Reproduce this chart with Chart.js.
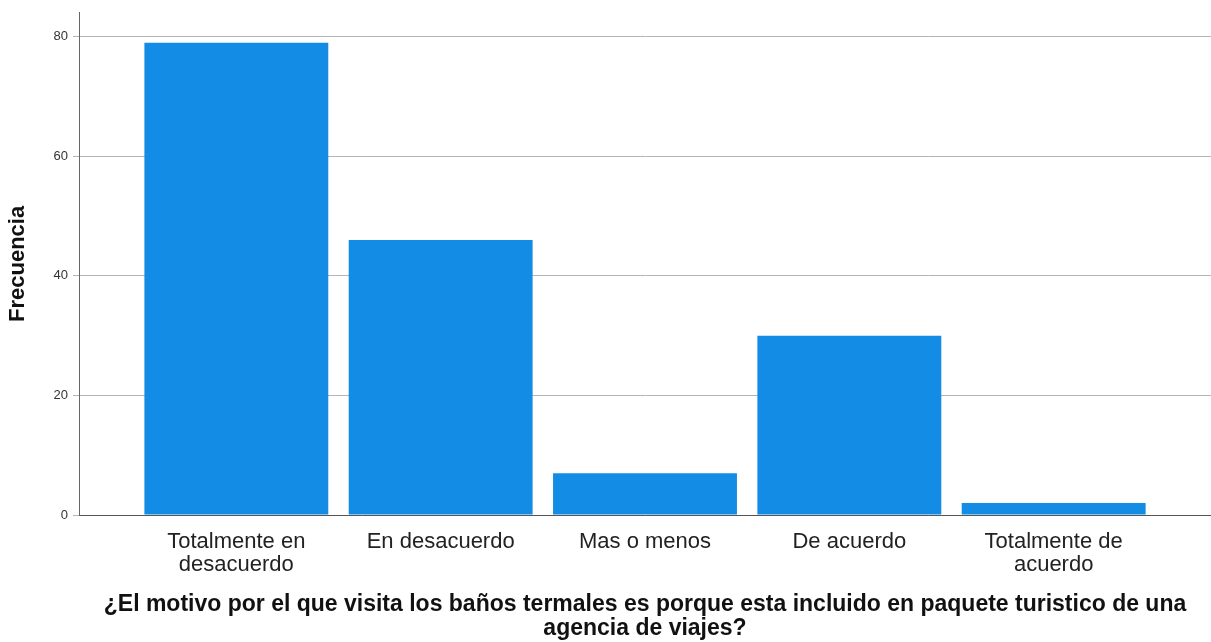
<!DOCTYPE html>
<html>
<head>
<meta charset="utf-8">
<script src="https://cdn.jsdelivr.net/npm/chart.js@4"></script>
<style>
  html, body { margin: 0; padding: 0; background: #fff; }
  #wrap { width: 1211px; height: 642px; }
</style>
</head>
<body>
<div id="wrap"><canvas id="chart"></canvas></div>
<script>
// categories of the answer and how many people gave each one
const categories = ["Totalmente en desacuerdo", "En desacuerdo", "Mas o menos", "De acuerdo", "Totalmente de acuerdo"];
const tickLabels = [["Totalmente en", "desacuerdo"], ["En desacuerdo"], ["Mas o menos"], ["De acuerdo"], ["Totalmente de", "acuerdo"]];
const frecuencia = [79, 46, 7, 30, 2];
const yTicks = [0, 20, 40, 60, 80];

const font = "'Liberation Sans', Arial, sans-serif";

let ctx = document.getElementById("chart");
let myChart = new Chart(ctx, {
    type: "bar",
    data: {
        datasets: [{
            label: "Frecuencia",
            data: frecuencia.map((v, i) => ({ x: i, y: v })),
            backgroundColor: "#128ce5",
            borderWidth: 0,
            barPercentage: 0.9,
            categoryPercentage: 1.0
        }]
    },
    options: {
        responsive: true,
        maintainAspectRatio: false,
        animation: false,
        layout: { padding: { top: 10, right: 0, left: 0, bottom: 0 } },
        plugins: {
            legend: { display: false },
            tooltip: { enabled: false }
        },
        scales: {
            x: {
                type: "linear",
                min: -0.77,
                max: 4.77,
                offset: false,
                afterBuildTicks: scale => { scale.ticks = categories.map((c, i) => ({ value: i })); },
                afterFit: scale => { scale.height = 127; },
                grid: { display: false, offset: false },
                border: { display: true, color: "#555", width: 1 },
                ticks: {
                    autoSkip: false,
                    maxRotation: 0,
                    padding: 7,
                    color: "#222",
                    font: { family: font, size: 22, lineHeight: 1.05 },
                    callback: v => tickLabels[v]
                },
                title: {
                    display: true,
                    text: ["¿El motivo por el que visita los baños termales es porque esta incluido en paquete turistico de una", "agencia de viajes?"],
                    color: "#111",
                    font: { family: font, size: 23, weight: "bold", lineHeight: 1.05 },
                    padding: { top: 0, bottom: 1 }
                }
            },
            y: {
                min: 0,
                max: 84,
                afterBuildTicks: scale => { scale.ticks = yTicks.map(v => ({ value: v })); },
                afterFit: scale => { scale.width = 79; },
                grid: { color: "#b4b4b4", lineWidth: 1, tickLength: 6, drawTicks: true },
                border: { display: true, color: "#666", width: 1 },
                ticks: {
                    padding: 5,
                    color: "#333",
                    font: { family: font, size: 13 }
                },
                title: {
                    display: true,
                    text: "Frecuencia",
                    color: "#111",
                    font: { family: font, size: 22, weight: "bold" },
                    padding: { top: 5, bottom: 0 }
                }
            }
        }
    }
});
</script>
</body>
</html>
